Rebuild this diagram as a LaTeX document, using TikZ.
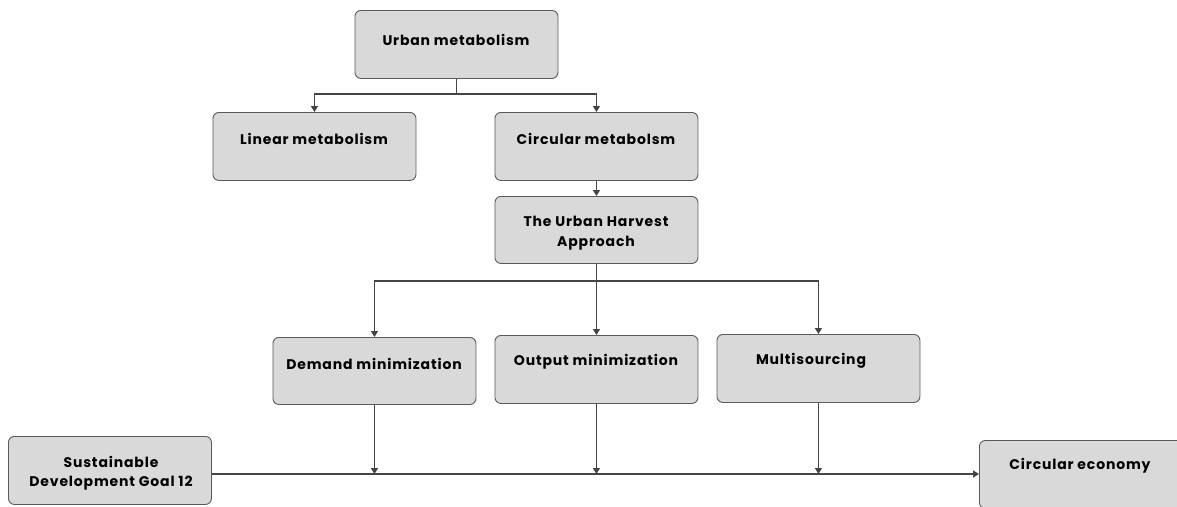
\documentclass[tikz,border=0pt]{standalone}
\usepackage{fontspec}
\setmainfont{Poppins}[LetterSpace=6]
\usetikzlibrary{arrows.meta}
\definecolor{boxfill}{HTML}{D9D9D9}
\definecolor{boxline}{HTML}{5A5A5A}
\definecolor{conn}{HTML}{444444}
\tikzset{
  box/.style={draw=boxline, fill=boxfill, line width=0.9pt, rounded corners=6pt,
    minimum width=203pt, minimum height=68pt, anchor=north west, inner sep=0pt},
  lbl/.style={font=\fontsize{14}{19.5}\selectfont\bfseries, align=center, inner sep=0pt, text=black},
  conn/.style={draw=conn, line width=1.4pt},
  arr/.style={conn, -{Triangle[length=6pt,width=7pt]}},
}
\begin{document}
\begin{tikzpicture}[x=1pt,y=1pt]
\useasboundingbox (0,0) rectangle (1177,-506);
% boxes
\node[box] (um) at (354.5,-10) {};
\node[box] (lm) at (212.5,-112) {};
\node[box] (cm) at (494.5,-112) {};
\node[box, minimum height=67pt] (uh) at (494.5,-196) {};
\node[box, minimum height=67pt] (dm) at (272.5,-337) {};
\node[box] (om) at (494.5,-335) {};
\node[box] (ms) at (716.5,-334) {};
\node[box] (sdg) at (8,-436) {};
\node[box, minimum width=210pt] (ce) at (979,-440) {};
% labels
\node[lbl] (tum) at (456,-40) {Urban metabolism};
\node[lbl] (tlm) at (314,-139) {Linear metabolism};
\node[lbl] (tcm) at (596,-139) {Circular metabolsm};
\node[lbl] (tuh) at (596,-233) {The Urban Harvest\\Approach};
\node[lbl] (tdm) at (374,-364) {Demand minimization};
\node[lbl] (tom) at (596,-362) {Output minimization};
\node[lbl] (tms) at (811,-361) {Multisourcing};
\node[lbl] (tsdg) at (111,-473) {Sustainable\\Development Goal 12};
\node[lbl] (tce) at (1080,-466) {Circular economy};
% junction coordinates
\coordinate (j1) at (456,-94);
\coordinate (j2) at (596,-281);
\coordinate (bl) at (0,-474);
% connectors
\draw[conn] (um.south) -- (um.south |- j1);
\draw[arr] (um.south |- j1) -| (lm.north);
\draw[arr] (um.south |- j1) -| (cm.north);
\draw[arr] (cm.south) -- (uh.north);
\draw[conn] (uh.south) -- (uh.south |- j2);
\draw[arr] (uh.south |- j2) -| (dm.north);
\draw[arr] (uh.south |- j2) -- (om.north);
\draw[arr] (uh.south |- j2) -| (ms.north);
\draw[arr] (sdg.east |- bl) -- (ce.west |- bl);
\draw[arr] (dm.south) -- (dm.south |- bl);
\draw[arr] (om.south) -- (om.south |- bl);
\draw[arr] (ms.south) -- (ms.south |- bl);
\end{tikzpicture}
\end{document}
